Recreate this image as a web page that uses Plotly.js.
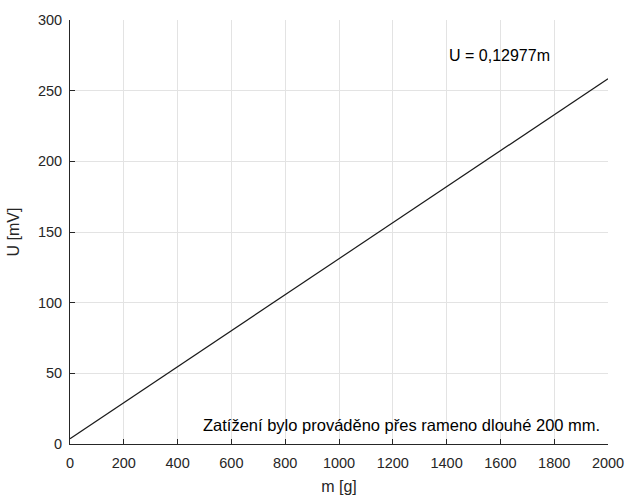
<!DOCTYPE html>
<html>
<head>
<meta charset="utf-8">
<script src="https://cdn.plot.ly/plotly-3.0.1.min.js"></script>
<style>html,body{margin:0;padding:0;background:#fff;}#chart{width:628px;height:497px;}</style>
</head>
<body>
<div id="chart"></div>
<script>
const massG = [0, 2000];
const voltageMV = [3.8, 258.4];
const xTicks = [0, 200, 400, 600, 800, 1000, 1200, 1400, 1600, 1800, 2000];
const yTicks = [0, 50, 100, 150, 200, 250, 300];
const eqText = "U = 0,12977m";
const noteText = "Zatížení bylo prováděno přes rameno dlouhé 200 mm.";

const fam = "Liberation Sans, Arial, sans-serif";
const tickFont = {family: fam, size: 14.5, color: "#262626"};
const titleFont = {family: fam, size: 16, color: "#262626"};
const data = [{
  x: massG, y: voltageMV, type: "scatter", mode: "lines",
  line: {color: "#1a1a1a", width: 1.2}, hoverinfo: "skip"
}];
const layout = {
  width: 628, height: 497,
  margin: {l: 70, r: 20, t: 20, b: 53},
  paper_bgcolor: "#fff", plot_bgcolor: "#fff",
  showlegend: false,
  font: tickFont,
  xaxis: {
    range: [0, 2000], tickvals: xTicks, ticktext: xTicks.map(String),
    showgrid: true, gridcolor: "#e3e3e3", gridwidth: 1,
    showline: true, linecolor: "#262626", linewidth: 1,
    ticks: "inside", ticklen: 5, tickcolor: "#262626",
    zeroline: false, tickfont: tickFont, ticklabelstandoff: 6,
    title: {text: "m [g]", font: titleFont, standoff: 10}
  },
  yaxis: {
    range: [0, 300], tickvals: yTicks, ticktext: yTicks.map(String),
    showgrid: true, gridcolor: "#e3e3e3", gridwidth: 1,
    showline: true, linecolor: "#262626", linewidth: 1,
    ticks: "inside", ticklen: 5, tickcolor: "#262626",
    zeroline: false, tickfont: tickFont, ticklabelstandoff: 4,
    title: {text: "U [mV]", font: titleFont, standoff: 14}
  },
  annotations: [
    {x: 1401, y: 275, xref: "x", yref: "y", text: eqText, showarrow: false,
     xanchor: "left", yanchor: "middle", font: {family: fam, size: 16, color: "#000"}},
    {x: 1978, y: 13.4, xref: "x", yref: "y", text: noteText, showarrow: false,
     xanchor: "right", yanchor: "middle", font: {family: fam, size: 16.5, color: "#000"}}
  ]
};
Plotly.newPlot("chart", data, layout, {displayModeBar: false, staticPlot: true});
</script>
</body>
</html>
